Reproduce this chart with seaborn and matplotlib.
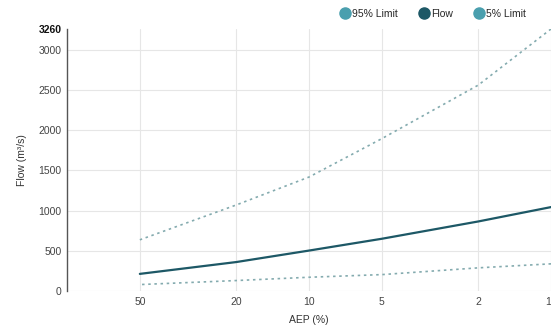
import matplotlib
matplotlib.use("Agg")
import matplotlib.pyplot as plt
import seaborn as sns
import pandas as pd
from matplotlib.lines import Line2D

aep = [50, 20, 10, 5, 2, 1]
flow = [213, 360, 503, 650, 865, 1044]
limit_95 = [80, 130, 171, 204, 288, 338]
limit_5 = [637, 1070, 1418, 1896, 2561, 3260]
x_ticks = [50, 20, 10, 5, 2, 1]
y_ticks = [0, 500, 1000, 1500, 2000, 2500, 3000]
y_max = 3260

sns.set_theme(style="white")
plt.rcParams["font.family"] = ["Liberation Sans", "DejaVu Sans"]

c_flow = "#1d5866"
c_lim = "#4a9fae"
c_dot = "#84abaf"

fig = plt.figure(figsize=(5.51, 3.33), dpi=100)
ax = fig.add_axes([67 / 551, 1 - 291 / 333, (551 - 67) / 551, (291 - 29) / 333])

df = pd.DataFrame({"AEP": aep, "Flow": flow, "95% Limit": limit_95, "5% Limit": limit_5})
sns.lineplot(data=df, x="AEP", y="5% Limit", ax=ax, color=c_dot, lw=1.2, linestyle=(0, (1.5, 2.2)))
sns.lineplot(data=df, x="AEP", y="95% Limit", ax=ax, color=c_dot, lw=1.2, linestyle=(0, (1.5, 2.2)))
sns.lineplot(data=df, x="AEP", y="Flow", ax=ax, color=c_flow, lw=1.6)

ax.set_xscale("log")
ax.set_xlim(100, 1)
ax.set_ylim(0, y_max)
ax.set_xticks(x_ticks)
ax.set_xticklabels([str(v) for v in x_ticks])
ax.minorticks_off()
ax.set_yticks(y_ticks + [y_max])
labels = [str(v) for v in y_ticks] + [str(y_max)]
ax.set_yticklabels(labels)
ax.tick_params(axis="both", labelsize=7.5, colors="#444444", length=0, pad=4)
for lbl in ax.get_yticklabels():
    if lbl.get_text() == str(y_max):
        lbl.set_fontweight("bold")
        lbl.set_color("#111111")
for lbl in ax.get_xticklabels():
    if lbl.get_text() == "1":
        lbl.set_horizontalalignment("right")
ax.grid(True, color="#e6e6e6", lw=0.8)
ygl = ax.yaxis.get_gridlines()
ygl[-1].set_visible(False)

for s in ["top", "right", "bottom"]:
    ax.spines[s].set_visible(False)
ax.spines["left"].set_color("#555555")
ax.spines["left"].set_linewidth(1.0)

ax.set_xlabel("AEP (%)", fontsize=7.5, color="#333333", labelpad=6)
ax.set_ylabel("Flow (m\u00b3/s)", fontsize=7.5, color="#333333", labelpad=8)

handles = [
    Line2D([], [], marker="o", ls="", color=c_lim, markersize=8),
    Line2D([], [], marker="o", ls="", color=c_flow, markersize=8),
    Line2D([], [], marker="o", ls="", color=c_lim, markersize=8),
]
fig.legend(handles, ["95% Limit", "Flow", "5% Limit"], loc="center", bbox_to_anchor=(433 / 551, 1 - 14 / 333),
           ncol=3, frameon=False, fontsize=7.5, handletextpad=0.2, columnspacing=2.0, handlelength=1.0)

fig.savefig("out.png", dpi=100)
